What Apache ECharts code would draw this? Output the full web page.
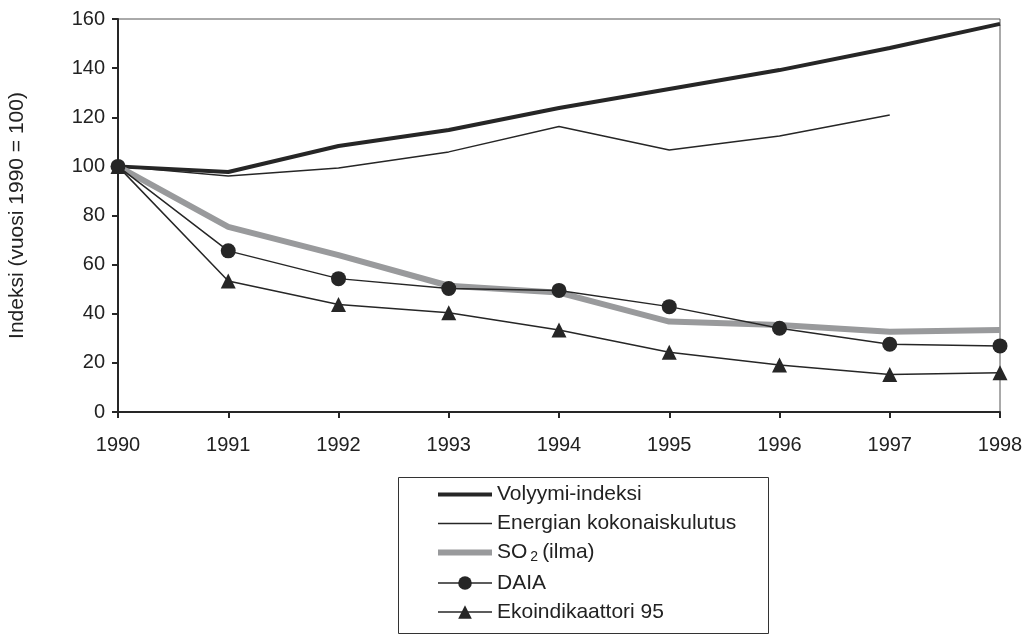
<!DOCTYPE html>
<html>
<head>
<meta charset="utf-8">
<script src="https://cdn.jsdelivr.net/npm/echarts@6/dist/echarts.min.js"></script>
<style>
  html, body { margin: 0; padding: 0; background: #fff; }
  #chart { width: 1030px; height: 635px; }
</style>
</head>
<body>
<div id="chart"></div>
<script>
// vuodet
const years = ['1990', '1991', '1992', '1993', '1994', '1995', '1996', '1997', '1998'];
// indeksit (1990 = 100)
const volyymi = [100, 97.7, 108.3, 114.8, 123.8, 131.5, 139.2, 148.2, 158];
const energia = [100, 96.1, 99.3, 105.9, 116.2, 106.7, 112.4, 120.9, null];
const so2 = [100, 75.4, 63.9, 51.4, 48.6, 36.8, 35.4, 32.7, 33.4];
const daia = [100, 65.6, 54.3, 50.3, 49.5, 42.9, 34.1, 27.6, 26.9];
const eko = [100, 53.3, 43.8, 40.4, 33.4, 24.3, 19.1, 15.3, 16.0];

const dark = '#262626';
const grey = '#999a9c';
const font = 'Liberation Sans, Arial, sans-serif';

const chart = echarts.init(document.getElementById('chart'));

const option = {
    backgroundColor: '#fff',
    animation: false,
    grid: {
        left: 118,
        right: 30,
        top: 19,
        bottom: 223,
        outerBoundsMode: 'none',
        show: true,
        borderColor: '#555',
        borderWidth: 1
    },
    xAxis: {
        type: 'category',
        data: years,
        boundaryGap: false,
        axisLine: { lineStyle: { color: dark, width: 2 } },
        axisTick: { show: true, length: 6, lineStyle: { color: dark, width: 2 } },
        axisLabel: { color: '#222', fontSize: 20, fontFamily: font, margin: 23 },
        splitLine: { show: false }
    },
    yAxis: {
        type: 'value',
        min: 0,
        max: 160,
        interval: 20,
        name: 'Indeksi (vuosi 1990 = 100)',
        nameLocation: 'middle',
        nameGap: 90,
        nameRotate: 90,
        nameTextStyle: { color: '#222', fontSize: 21, fontFamily: font },
        axisLine: { show: true, lineStyle: { color: dark, width: 2 } },
        axisTick: { show: true, length: 6, lineStyle: { color: dark, width: 2 } },
        axisLabel: { color: '#222', fontSize: 20, fontFamily: font, margin: 13 },
        splitLine: { show: false }
    },
    legend: {
        orient: 'vertical',
        left: 430,
        top: 479,
        itemWidth: 54,
        itemHeight: 17,
        itemGap: 8,
        textStyle: {
            color: '#222',
            fontSize: 21,
            fontFamily: font,
            rich: {
                sub: { fontSize: 14, fontFamily: font, color: '#222', padding: [10, 4, 0, 3] }
            }
        },
        formatter: (name) => {
            if (name === 'SO2 (ilma)') return 'SO{sub|2}(ilma)';
            return name;
        },
        data: [
            { name: 'Volyymi-indeksi', itemStyle: { opacity: 0 }, lineStyle: { width: 4, color: dark } },
            { name: 'Energian kokonaiskulutus', itemStyle: { opacity: 0 }, lineStyle: { width: 1.5, color: dark } },
            { name: 'SO2 (ilma)', itemStyle: { opacity: 0 }, lineStyle: { width: 6, color: grey } },
            { name: 'DAIA', lineStyle: { width: 1.5, color: dark } },
            { name: 'Ekoindikaattori 95', lineStyle: { width: 1.5, color: dark } }
        ]
    },
    graphic: [
        {
            type: 'rect',
            shape: { x: 398.5, y: 477.5, width: 370, height: 156 },
            style: { fill: 'none', stroke: '#333', lineWidth: 1 }
        }
    ],
    series: [
        {
            name: 'Volyymi-indeksi',
            type: 'line',
            data: volyymi,
            symbol: 'none',
            lineStyle: { color: dark, width: 4 },
            itemStyle: { color: dark }
        },
        {
            name: 'Energian kokonaiskulutus',
            type: 'line',
            data: energia,
            symbol: 'none',
            lineStyle: { color: dark, width: 1.5 },
            itemStyle: { color: dark }
        },
        {
            name: 'SO2 (ilma)',
            type: 'line',
            data: so2,
            symbol: 'none',
            lineStyle: { color: grey, width: 6 },
            itemStyle: { color: grey }
        },
        {
            name: 'Ekoindikaattori 95',
            type: 'line',
            data: eko,
            symbol: 'triangle',
            symbolSize: 15,
            lineStyle: { color: dark, width: 1.5 },
            itemStyle: { color: dark }
        },
        {
            name: 'DAIA',
            type: 'line',
            data: daia,
            symbol: 'circle',
            symbolSize: 15,
            lineStyle: { color: dark, width: 1.5 },
            itemStyle: { color: dark }
        }
    ]
};

chart.setOption(option);
</script>
</body>
</html>
